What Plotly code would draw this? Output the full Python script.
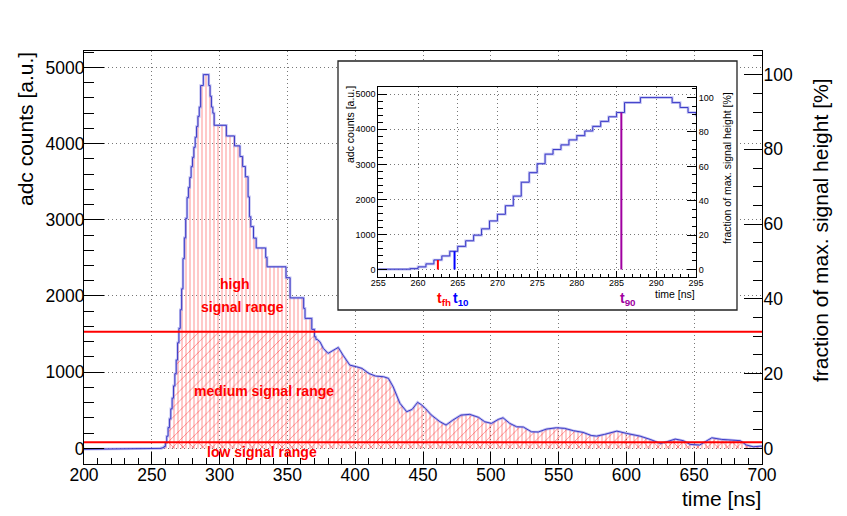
import numpy as np
import plotly.graph_objects as go

# ---------------- data ----------------
baseline_t = [200, 230, 255]
baseline_v = [-12, -10, -8]

bin_start = 255          # 1 ns bins starting here
bin_width = 1
bin_vals = [
    0, 0, 5, 10, 25, 75, 160, 273, 387, 519,            # 255-264
    660, 820, 980, 1160, 1386, 1575, 1820, 2094, 2490, 2763,   # 265-274
    3018, 3291, 3423, 3555, 3697, 3819, 3951, 4083, 4225, 4357,  # 275-284
    4479, 4762, 4762, 4905, 4905, 4905, 4905, 4762, 4621, 4479,  # 285-294
    4400, 4240, 4240, 4240, 4240, 4240, 4240, 4240, 4240, 4240,  # 295-304
    4100, 4100, 4100, 4100, 4100, 4100, 3970, 3970, 3970, 3970,  # 305-314
    3830, 3830, 3700, 3700, 3565, 3565, 3300, 3040, 2910, 2910,  # 315-324
    2760, 2760, 2630, 2630, 2630, 2630, 2630, 2630, 2630, 2506,  # 325-334
    2383, 2383, 2383, 2383, 2383, 2383, 2383, 2383, 2383, 2383,  # 335-344
    2383, 2383, 2383, 2383, 2240, 2240, 2240, 1975, 1975, 1975,  # 345-354
    1975, 1975, 1975, 1975, 1975, 1975, 1975, 1837, 1706, 1706,  # 355-364
    1706, 1706, 1706, 1562, 1562, 1465, 1430,                    # 365-371
]

tail_t = [374, 376.5, 380, 384, 387.5, 391, 396, 401, 405, 410, 415, 421, 424.5,
          428, 433, 438, 442, 446, 449, 452, 456, 462.5, 467, 472, 478, 484.5,
          491, 495.5, 500.5, 505.5, 509, 514, 519, 524, 530, 535, 541, 548.5,
          554.5, 561, 568, 574, 578, 584, 593, 600, 610, 617.5, 625, 630, 636,
          642, 647, 654, 658, 663, 670, 677.5, 684, 688.5, 693.5, 700]
tail_v = [1399, 1312, 1247, 1290, 1325, 1224, 1093, 1071, 1050, 984, 949, 940, 919,
          808, 591, 481, 512, 604, 570, 520, 440, 350, 306, 371, 437, 446,
          407, 350, 328, 380, 402, 328, 284, 280, 218, 215, 253, 271,
          262, 232, 210, 170, 161, 184, 227, 197, 161, 118, 66, 88, 122,
          101, 52, 44, 88, 139, 118, 109, 101, 44, 21, 30]

thresholds = [1530, 80]                 # high / low signal range borders
mark_t = [262.5, 264.6, 285.6]          # t_fh, t_10, t_90
mark_sub = ["fh", "10", "90"]
mark_colors = ["#ff0000", "#0000ff", "#a000a0"]

# ---------------- build histogram outline ----------------
edges = bin_start + np.arange(len(bin_vals) + 1) * bin_width
xs = list(baseline_t)
ys = list(baseline_v)
for i, v in enumerate(bin_vals):
    xs += [float(edges[i]), float(edges[i + 1])]
    ys += [v, v]
xs += tail_t
ys += tail_v
xs = np.array(xs, dtype=float)
ys = np.array(ys, dtype=float)
vmax = max(bin_vals)

YR = [-205, 5215]
PR = [YR[0] / vmax * 100, YR[1] / vmax * 100]

W, H = 847, 516
L, R, T, B = 84, 85, 51, 52


def px(x):
    return (x - L) / (W - L - R)


def py(y):
    return (H - B - y) / (H - T - B)


FONT = "Liberation Sans"
BLUE = "rgb(60,60,200)"
LAV = "rgba(140,140,230,0.55)"
HATCH = "rgba(255,0,0,0.88)"

fig = go.Figure()

# hatched fills (main plot)
fills = [
    (ys, "|", 4, 0.24),
    (np.minimum(ys, thresholds[0]), "/", 7, 0.13),
    (np.minimum(ys, thresholds[1]), "\\", 7, 0.13),
]
for yy, shp, sz, sol in fills:
    fig.add_trace(go.Scatter(
        x=xs, y=yy, mode="lines", line=dict(width=0), fill="tozeroy",
        fillcolor="rgba(0,0,0,0)",
        fillpattern=dict(shape=shp, fgcolor=HATCH, bgcolor="rgba(0,0,0,0)",
                         size=sz, solidity=sol),
        hoverinfo="skip", showlegend=False))

# outline
fig.add_trace(go.Scatter(x=xs, y=ys, mode="lines", line=dict(color=LAV, width=2.6),
                         hoverinfo="skip", showlegend=False))
fig.add_trace(go.Scatter(x=xs, y=ys, mode="lines", line=dict(color=BLUE, width=1),
                         showlegend=False))
# thresholds
for thr in thresholds:
    fig.add_trace(go.Scatter(x=[200, 700], y=[thr, thr], mode="lines",
                             line=dict(color="#ff0000", width=2), showlegend=False))
# right axis helper (percent)
fig.add_trace(go.Scatter(x=xs, y=ys / vmax * 100, yaxis="y2", mode="lines",
                         line=dict(width=0), opacity=0, hoverinfo="skip", showlegend=False))

# inset background subplot
fig.add_trace(go.Scatter(x=[], y=[], xaxis="x2", yaxis="y3", mode="markers",
                         showlegend=False))

# inset traces
fig.add_trace(go.Scatter(x=xs, y=ys, xaxis="x3", yaxis="y4", mode="lines",
                         line=dict(color=LAV, width=2.6), hoverinfo="skip", showlegend=False))
fig.add_trace(go.Scatter(x=xs, y=ys, xaxis="x3", yaxis="y4", mode="lines",
                         line=dict(color=BLUE, width=1), showlegend=False))
for t, c in zip(mark_t, mark_colors):
    h = bin_vals[int(np.floor((t - bin_start) / bin_width))]
    fig.add_trace(go.Scatter(x=[t, t], y=[0, h], xaxis="x3", yaxis="y4", mode="lines",
                             line=dict(color=c, width=2), showlegend=False))
fig.add_trace(go.Scatter(x=xs, y=ys / vmax * 100, xaxis="x3", yaxis="y5", mode="lines",
                         line=dict(width=0), opacity=0, hoverinfo="skip", showlegend=False))

grid = dict(showgrid=True, gridcolor="#777777", griddash="1px,3px", gridwidth=1)
tick_main = dict(size=17.5, family=FONT, color="black")
tick_in = dict(size=9, family=FONT, color="black")

fig.update_layout(
    width=W, height=H, margin=dict(l=L, r=R, t=T, b=B),
    paper_bgcolor="white", plot_bgcolor="white", showlegend=False,
    font=dict(family=FONT, color="black"),
    xaxis=dict(domain=[0, 1], anchor="y", range=[200, 700], tick0=200, dtick=50,
               ticks="inside", ticklen=12, tickcolor="black", ticklabelstandoff=-5,
               minor=dict(ticks="inside", ticklen=6, dtick=10, tickcolor="black", showgrid=False),
               showline=True, linecolor="black", linewidth=1, mirror=True, zeroline=False,
               tickfont=tick_main, **grid),
    yaxis=dict(domain=[0, 1], anchor="x", range=YR, tick0=0, dtick=1000,
               ticks="inside", ticklen=20, tickcolor="black", ticklabelstandoff=-5,
               minor=dict(ticks="inside", ticklen=10, dtick=200, tickcolor="black", showgrid=False),
               showline=True, linecolor="black", linewidth=1, zeroline=False,
               tickfont=tick_main, **grid),
    yaxis2=dict(overlaying="y", side="right", anchor="x", range=PR, tick0=0, dtick=20,
                ticks="inside", ticklen=18, tickcolor="black", ticklabelstandoff=-3,
                minor=dict(ticks="inside", ticklen=9, dtick=5, tickcolor="black", showgrid=False),
                showline=True, linecolor="black", linewidth=1, showgrid=False, zeroline=False,
                tickfont=tick_main),
    xaxis2=dict(domain=[px(338), px(737)], anchor="y3", range=[0, 1], visible=False),
    yaxis3=dict(domain=[py(310), py(61)], anchor="x2", range=[0, 1], visible=False),
    xaxis3=dict(domain=[px(378.3), px(696)], anchor="y4", range=[255, 295], tick0=255, dtick=5,
                ticks="inside", ticklen=6, tickcolor="black", ticklabelstandoff=-3,
                minor=dict(ticks="inside", ticklen=3, dtick=1, tickcolor="black", showgrid=False),
                showline=True, linecolor="black", linewidth=1, mirror=True, zeroline=False,
                tickfont=tick_in, **grid),
    yaxis4=dict(domain=[py(276.7), py(86.7)], anchor="x3", range=YR, tick0=0, dtick=1000,
                ticks="inside", ticklen=9, tickcolor="black",
                minor=dict(ticks="inside", ticklen=4.5, dtick=200, tickcolor="black", showgrid=False),
                showline=True, linecolor="black", linewidth=1, zeroline=False,
                tickfont=tick_in, **grid),
    yaxis5=dict(overlaying="y4", side="right", anchor="x3", range=PR, tick0=0, dtick=20,
                ticks="inside", ticklen=9, tickcolor="black",
                minor=dict(ticks="inside", ticklen=4.5, dtick=5, tickcolor="black", showgrid=False),
                showline=True, linecolor="black", linewidth=1, showgrid=False, zeroline=False,
                tickfont=tick_in),
)

# inset border
fig.add_shape(type="rect", xref="paper", yref="paper",
              x0=px(338), x1=px(737), y0=py(310), y1=py(61),
              line=dict(color="#222222", width=1.3), layer="above")

ann = []
# axis titles main
ann.append(dict(text="adc counts [a.u.]", x=px(25), y=py(129), textangle=-90,
                font=dict(size=21, family=FONT)))
ann.append(dict(text="fraction of max. signal height [%]", x=px(820), y=py(230), textangle=-90,
                font=dict(size=21, family=FONT)))
ann.append(dict(text="time [ns]", x=px(763), y=py(498), xanchor="right",
                font=dict(size=21, family=FONT)))
# inset titles
ann.append(dict(text="adc counts [a.u.]", x=px(350), y=py(125), textangle=-90,
                font=dict(size=10.5, family=FONT)))
ann.append(dict(text="fraction of max. signal height [%]", x=px(727), y=py(168), textangle=-90,
                font=dict(size=10.5, family=FONT)))
ann.append(dict(text="time [ns]", x=px(697), y=py(294), xanchor="right",
                font=dict(size=10.5, family=FONT)))
# region labels
red_b = dict(size=14, family=FONT, color="#ff0000")
ann.append(dict(text="<b>high</b>", x=px(235), y=py(284), font=red_b))
ann.append(dict(text="<b>signal range</b>", x=px(242), y=py(307), font=red_b))
ann.append(dict(text="<b>medium signal range</b>", x=px(264), y=py(391), font=red_b))
ann.append(dict(text="<b>low signal range</b>", x=px(262), y=py(452), font=red_b))

for a in ann:
    a.setdefault("xref", "paper")
    a.setdefault("yref", "paper")
    a.setdefault("xanchor", "center")
    a.setdefault("yanchor", "middle")
    a["showarrow"] = False
    fig.add_annotation(**a)

# t markers labels in inset
for t, s, c in zip(mark_t, mark_sub, mark_colors):
    fig.add_annotation(text=f"<b>t<sub>{s}</sub></b>", x=t - 0.4, xref="x3",
                       y=py(299), yref="paper", xanchor="left", yanchor="middle",
                       showarrow=False, font=dict(size=14, family=FONT, color=c))

fig.write_html("out.html", config={"displayModeBar": False},
               post_script="document.body.style.margin='0';")
